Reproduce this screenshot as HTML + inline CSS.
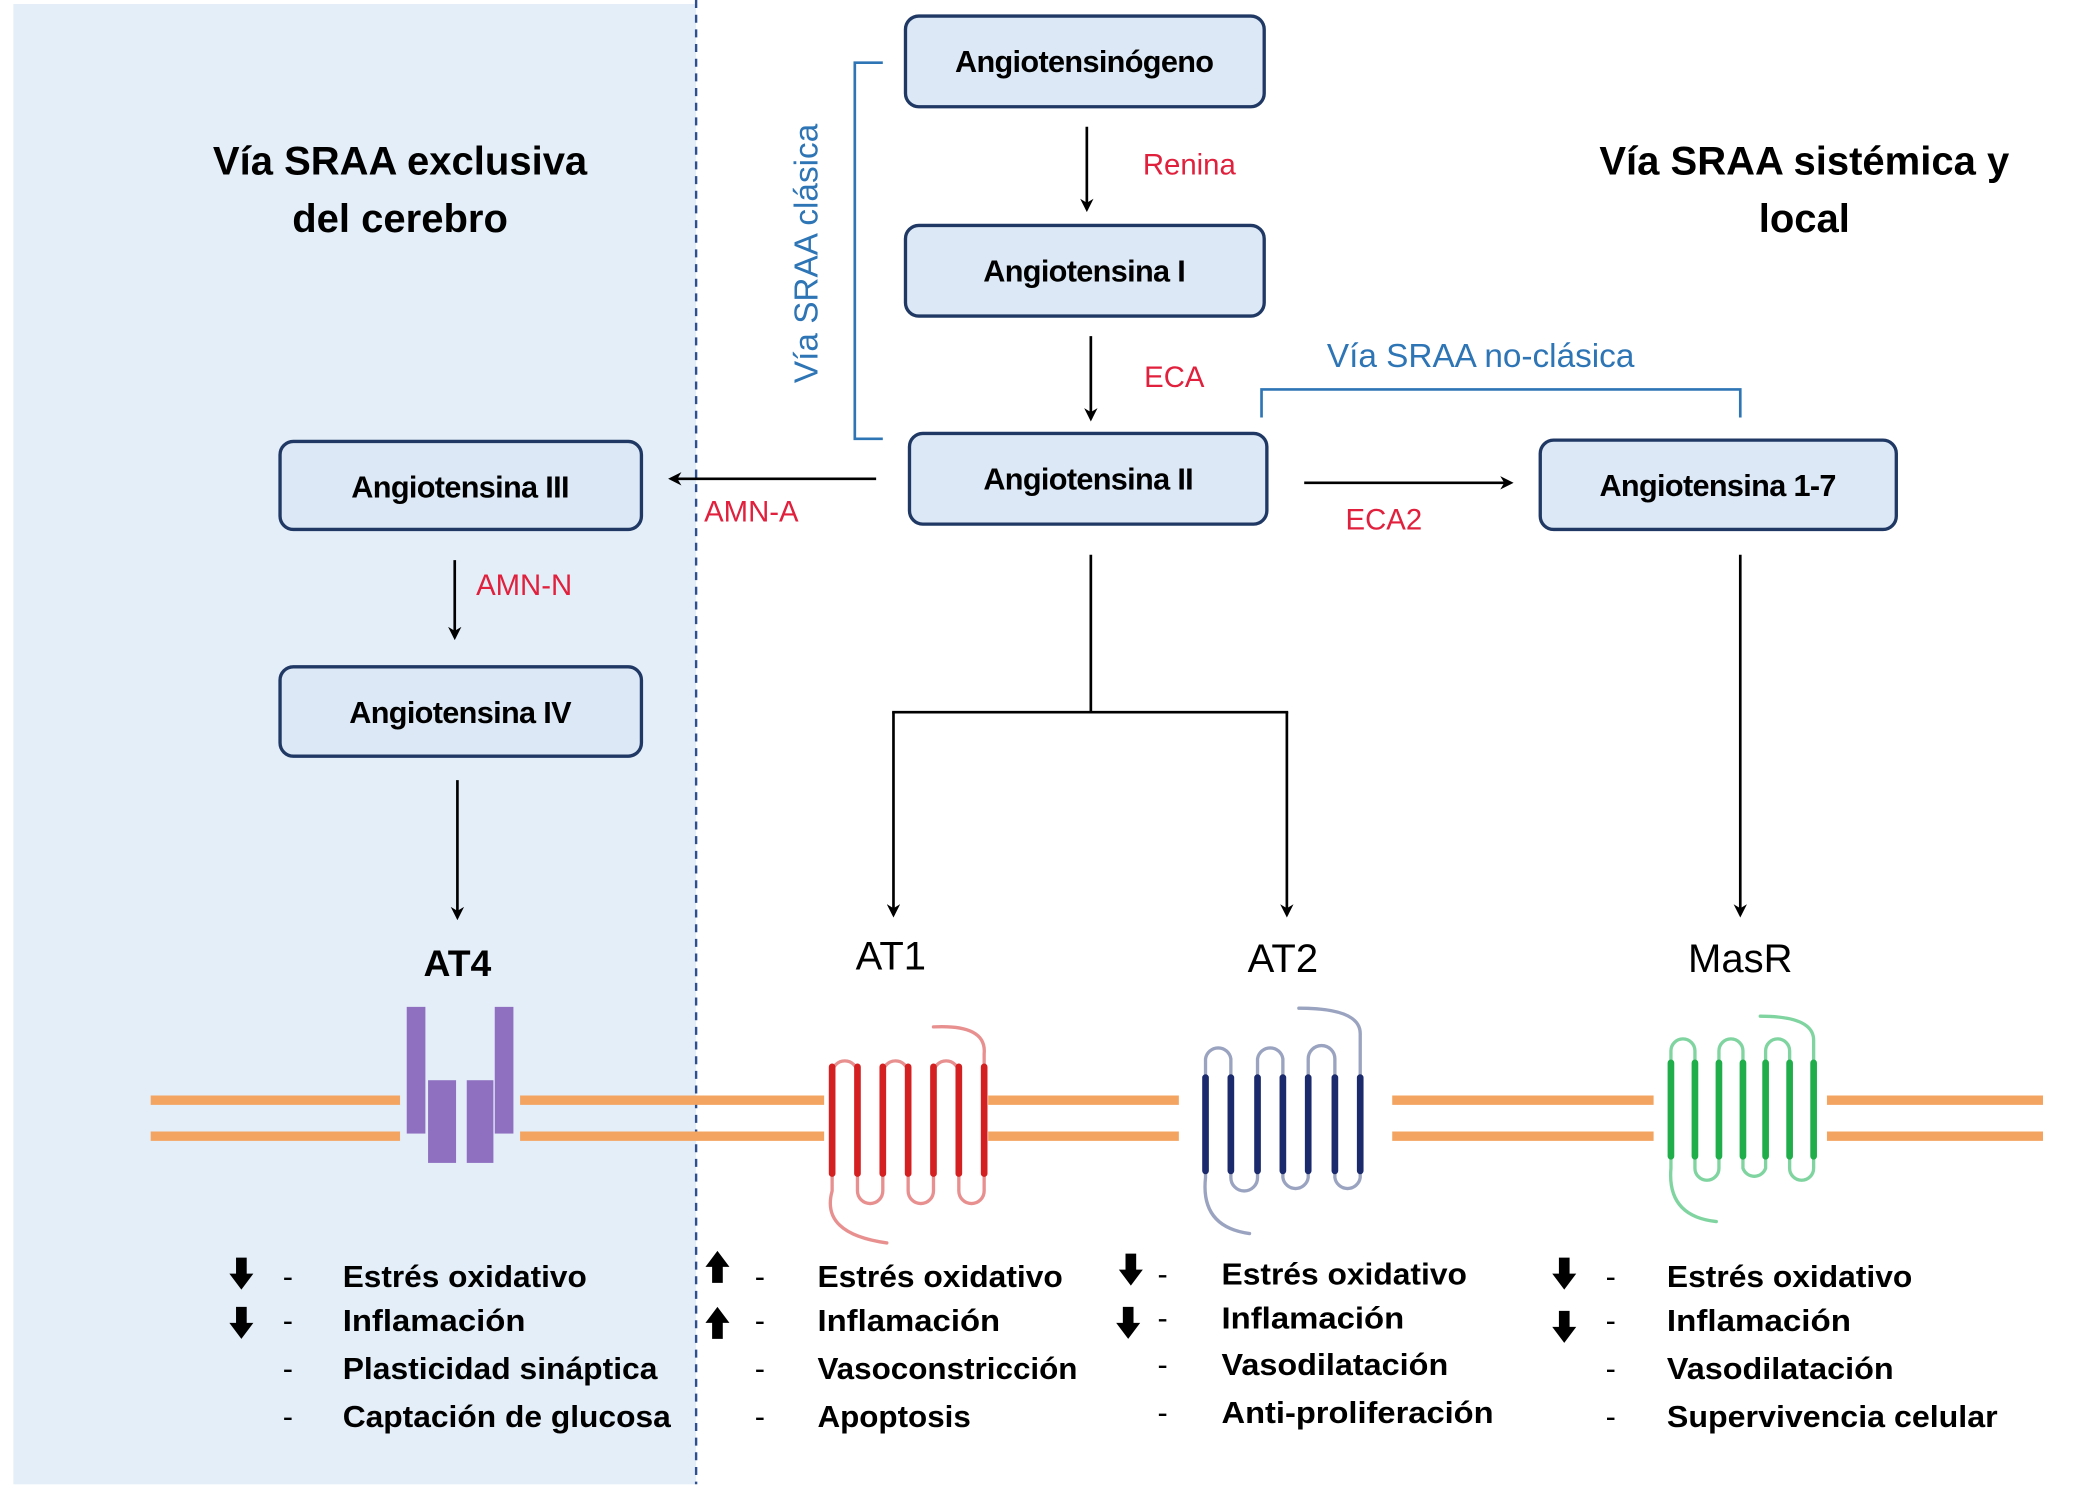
<!DOCTYPE html>
<html><head><meta charset="utf-8"><style>html,body{margin:0;padding:0;background:#fff}svg{display:block}text{font-family:"Liberation Sans",sans-serif}</style></head>
<body>
<svg width="2091" height="1491" viewBox="0 0 1568 1118" xmlns="http://www.w3.org/2000/svg">
<defs><marker id="ah" markerWidth="10" markerHeight="10" refX="8" refY="5" orient="auto" markerUnits="userSpaceOnUse"><path d="M0,0 L10,5 L0,10 L3,5 z" fill="#000"/></marker></defs>
<rect x="0" y="0" width="1568" height="1118" fill="#fff"/>
<rect x="10" y="3" width="512" height="1110" fill="#e4eef8"/>
<line x1="522" y1="0" x2="522" y2="1113" stroke="#2f4f8f" stroke-width="1.8" stroke-dasharray="6,5"/>

<g font-weight="bold" font-size="30" text-anchor="middle" fill="#000">
<text x="300" y="131">Vía SRAA exclusiva</text><text x="300" y="174">del cerebro</text>
<text x="1353" y="131">Vía SRAA sistémica y</text><text x="1353" y="174">local</text>
</g>

<g fill="#dce8f5" stroke="#1f3864" stroke-width="2.5">
<rect x="679" y="12" width="269" height="68" rx="10"/>
<rect x="679" y="169" width="269" height="68" rx="10"/>
<rect x="682" y="325" width="268" height="68" rx="10"/>
<rect x="1155" y="330" width="267" height="67" rx="10"/>
<rect x="210" y="331" width="271" height="66" rx="10"/>
<rect x="210" y="500" width="271" height="67" rx="10"/>
</g>
<g font-size="23" text-anchor="middle" fill="#000" font-weight="bold" letter-spacing="-0.5">
<text x="813" y="54">Angiotensinógeno</text>
<text x="813" y="211">Angiotensina I</text>
<text x="816" y="367">Angiotensina II</text>
<text x="1288" y="372">Angiotensina 1-7</text>
<text x="345" y="373">Angiotensina III</text>
<text x="345" y="542">Angiotensina IV</text>
</g>

<g fill="#e0203c" font-size="22">
<text x="857" y="131">Renina</text><text x="858" y="290">ECA</text>
<text x="528" y="391">AMN-A</text><text x="1009" y="397">ECA2</text>
<text x="357" y="446">AMN-N</text>
</g>
<g fill="#2e75b6" font-size="25">
<text x="995" y="275">Vía SRAA no-clásica</text>
<text transform="translate(613,190) rotate(-90)" text-anchor="middle">Vía SRAA clásica</text>
</g>
<g fill="none" stroke="#2e75b6" stroke-width="2">
<path d="M662,47 H641 V329 H662"/>
<path d="M946,313 V292 H1305 V313"/>
</g>

<g stroke="#000" stroke-width="2" fill="none" marker-end="url(#ah)">
<line x1="815" y1="95" x2="815" y2="157"/>
<line x1="818" y1="252" x2="818" y2="314"/>
<line x1="657" y1="359" x2="503" y2="359"/>
<line x1="978" y1="362" x2="1133" y2="362"/>
<line x1="341" y1="420" x2="341" y2="478"/>
<line x1="343" y1="585" x2="343" y2="688"/>
<line x1="670" y1="534" x2="670" y2="686"/>
<line x1="965" y1="534" x2="965" y2="686"/>
<line x1="1305" y1="416" x2="1305" y2="686"/>
</g>
<path d="M818,416 V534 M669,534 H966" stroke="#000" stroke-width="2" fill="none"/>

<g font-size="30" text-anchor="middle" fill="#000">
<text x="343" y="732" font-weight="bold" font-size="28">AT4</text>
<text x="668" y="727">AT1</text><text x="962" y="729">AT2</text><text x="1305" y="729">MasR</text>
</g>

<g stroke="#f4a461" stroke-width="7">
<path d="M113,825 H618 M741,825 H884 M1044,825 H1240 M1370,825 H1532"/>
<path d="M113,852 H618 M741,852 H884 M1044,852 H1240 M1370,852 H1532"/>
</g>
<rect x="300" y="810" width="90" height="50" fill="#e4eef8"/>

<g fill="#8e6fc0">
<rect x="305" y="755" width="14" height="95"/><rect x="371" y="755" width="14" height="95"/>
<rect x="321" y="810" width="21" height="62"/><rect x="350" y="810" width="20" height="62"/>
</g>

<g fill="none" stroke-linecap="round">
<path d="M624,893 V805 A9.5,9.5 0 0 1 643,805 V893 A9.5,9.5 0 0 0 662,893 V805 A9.5,9.5 0 0 1 681,805 V893 A9.5,9.5 0 0 0 700,893 V805 A9.5,9.5 0 0 1 719,805 V893 A9.5,9.5 0 0 0 738,893 V790 Q740,768 700,770 M624,893 Q615,925 665,932" stroke="#e89090" stroke-width="2.5"/>
<path d="M624,800 V880 M643,800 V880 M662,800 V880 M681,800 V880 M700,800 V880 M719,800 V880 M738,800 V880" stroke="#d42020" stroke-width="5"/>
</g>
<g fill="none" stroke-linecap="round">
<path d="M904,883 V794 A9.6,9.6 0 0 1 923,794 V883 A9.6,9.6 0 0 0 943,883 V794 A9.6,9.6 0 0 1 962,794 V883 A9.6,9.6 0 0 0 981,883 V794 A9.6,9.6 0 0 1 1001,794 V883 A9.6,9.6 0 0 0 1020,883 V775 Q1020,756 974,756 M904,883 Q900,920 937,925" stroke="#9aa4c0" stroke-width="2.5"/>
<path d="M904,808 V878 M923,808 V878 M943,808 V878 M962,808 V878 M981,808 V878 M1001,808 V878 M1020,808 V878" stroke="#1a2a6c" stroke-width="5"/>
</g>
<g fill="none" stroke-linecap="round">
<path d="M1253,876 V788 A9,9 0 0 1 1271,788 V876 A9,9 0 0 0 1289,876 V788 A9,9 0 0 1 1307,788 V876 A9,9 0 0 0 1324,876 V788 A9,9 0 0 1 1342,788 V876 A9,9 0 0 0 1360,876 V780 Q1360,762 1320,762 M1253,876 Q1250,912 1287,916" stroke="#7fd4a0" stroke-width="2.5"/>
<path d="M1253,797 V867 M1271,797 V867 M1289,797 V867 M1307,797 V867 M1324,797 V867 M1342,797 V867 M1360,797 V867" stroke="#1fae4a" stroke-width="5"/>
</g>

<defs>
<path id="dn" d="M-4,-12 H4 V0 H9 L0,12 L-9,0 H-4 Z"/>
<path id="up" d="M-4,12 H4 V0 H9 L0,-12 L-9,0 H-4 Z"/>
</defs>
<g fill="#000">
<use href="#dn" x="181" y="955"/><use href="#dn" x="181" y="992"/>
<use href="#up" x="538" y="950"/><use href="#up" x="538" y="992"/>
<use href="#dn" x="848" y="952"/><use href="#dn" x="846" y="992"/>
<use href="#dn" x="1173" y="955"/><use href="#dn" x="1173" y="995"/>
</g>
<g font-size="23" font-weight="bold" fill="#000">
<g font-weight="normal"><text x="212" y="965">-</text><text x="212" y="998">-</text><text x="212" y="1034">-</text><text x="212" y="1070">-</text>
<text x="566" y="965">-</text><text x="566" y="998">-</text><text x="566" y="1034">-</text><text x="566" y="1070">-</text>
<text x="868" y="963">-</text><text x="868" y="996">-</text><text x="868" y="1031">-</text><text x="868" y="1067">-</text>
<text x="1204" y="965">-</text><text x="1204" y="998">-</text><text x="1204" y="1034">-</text><text x="1204" y="1070">-</text></g>
<g lengthAdjust="spacingAndGlyphs">
<text x="257" y="965" textLength="183" lengthAdjust="spacingAndGlyphs">Estrés oxidativo</text><text x="257" y="998" textLength="137" lengthAdjust="spacingAndGlyphs">Inflamación</text><text x="257" y="1034" textLength="236" lengthAdjust="spacingAndGlyphs">Plasticidad sináptica</text><text x="257" y="1070" textLength="246" lengthAdjust="spacingAndGlyphs">Captación de glucosa</text>
<text x="613" y="965" textLength="184" lengthAdjust="spacingAndGlyphs">Estrés oxidativo</text><text x="613" y="998" textLength="137" lengthAdjust="spacingAndGlyphs">Inflamación</text><text x="613" y="1034" textLength="195" lengthAdjust="spacingAndGlyphs">Vasoconstricción</text><text x="613" y="1070" textLength="115" lengthAdjust="spacingAndGlyphs">Apoptosis</text>
<text x="916" y="963" textLength="184" lengthAdjust="spacingAndGlyphs">Estrés oxidativo</text><text x="916" y="996" textLength="137" lengthAdjust="spacingAndGlyphs">Inflamación</text><text x="916" y="1031" textLength="170" lengthAdjust="spacingAndGlyphs">Vasodilatación</text><text x="916" y="1067" textLength="204" lengthAdjust="spacingAndGlyphs">Anti-proliferación</text>
<text x="1250" y="965" textLength="184" lengthAdjust="spacingAndGlyphs">Estrés oxidativo</text><text x="1250" y="998" textLength="138" lengthAdjust="spacingAndGlyphs">Inflamación</text><text x="1250" y="1034" textLength="170" lengthAdjust="spacingAndGlyphs">Vasodilatación</text><text x="1250" y="1070" textLength="248" lengthAdjust="spacingAndGlyphs">Supervivencia celular</text>
</g>
</g>
</svg>
</body></html>
